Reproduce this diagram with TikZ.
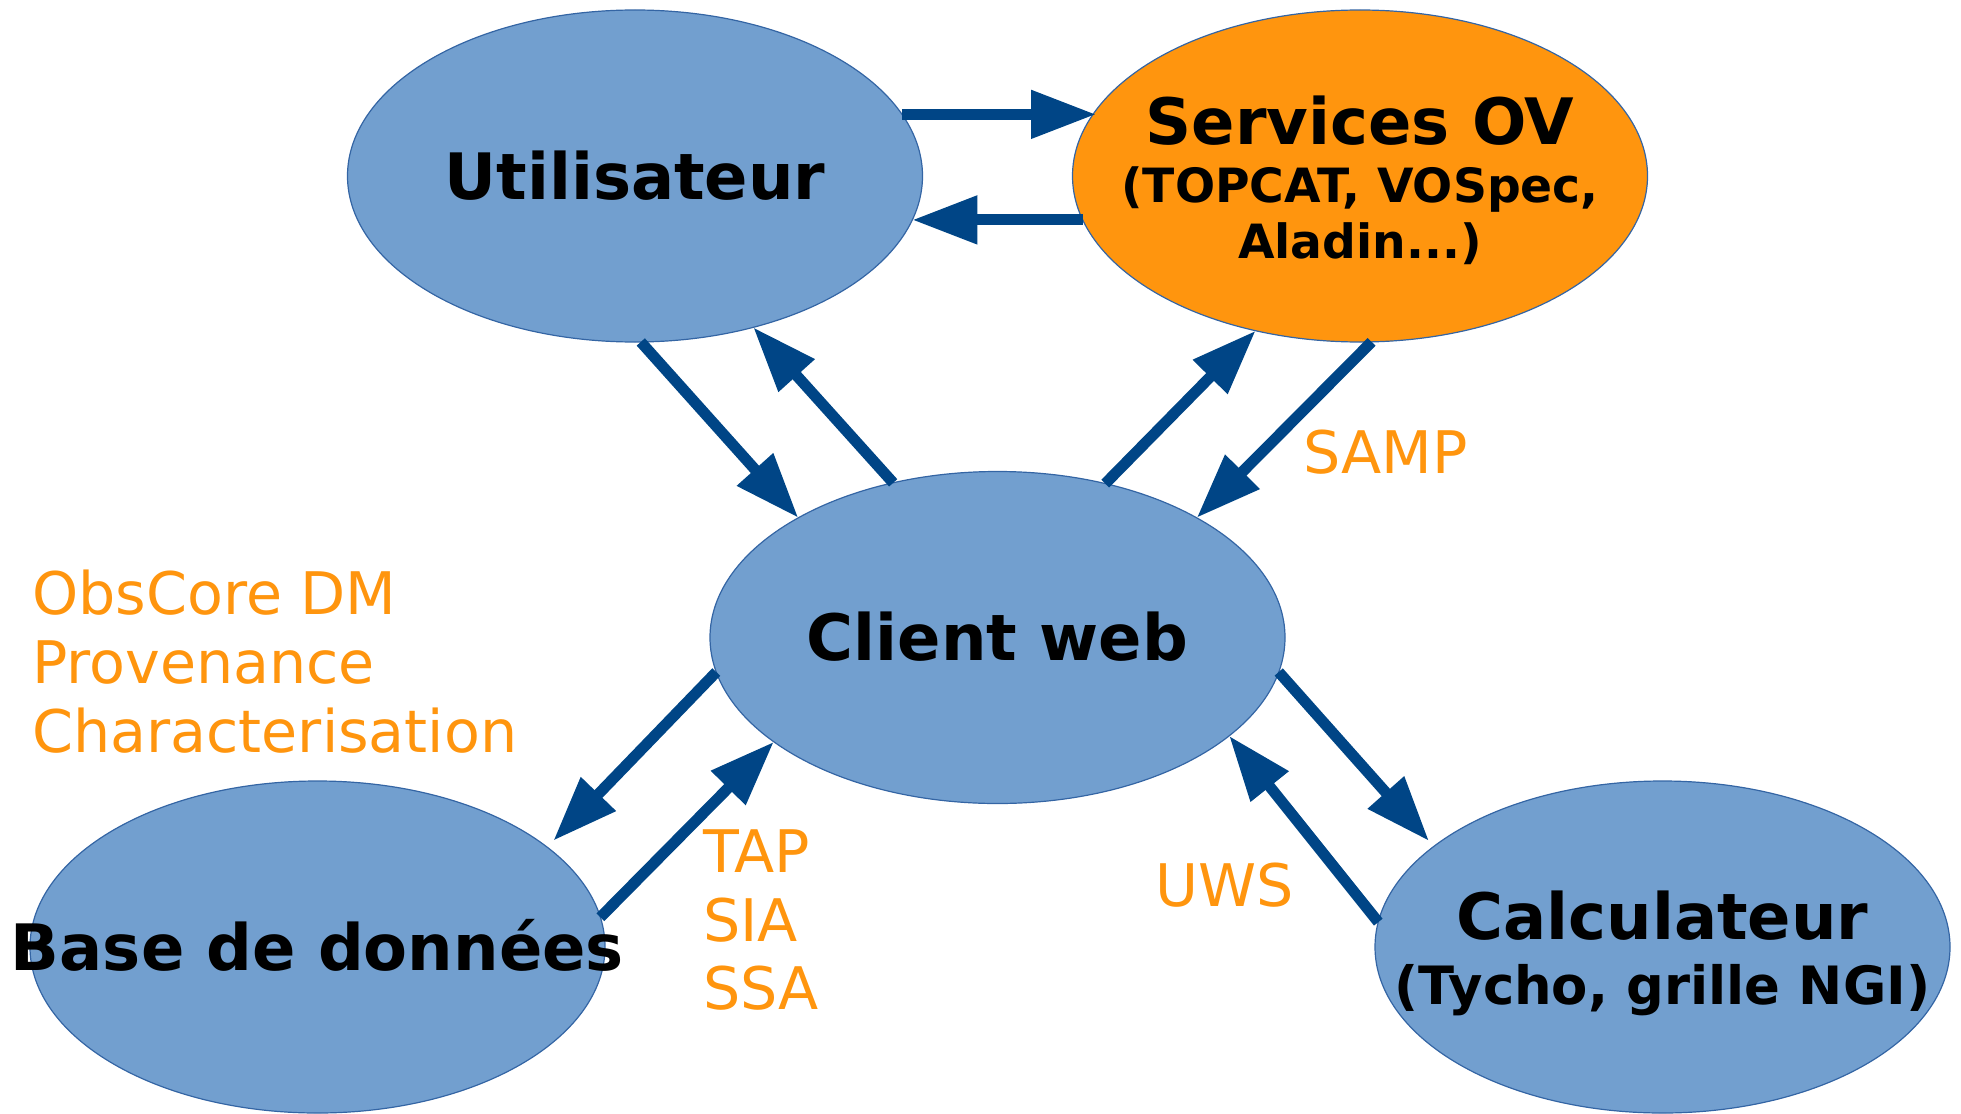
\documentclass[tikz,border=0pt]{standalone}
\usepackage{fontspec}
\setmainfont{DejaVu Sans}
\usetikzlibrary{arrows.meta,shapes.geometric}
\definecolor{nodeblue}{HTML}{729FCF}
\definecolor{nodeorange}{HTML}{FF950E}
\definecolor{edgeblue}{HTML}{3465A4}
\definecolor{arrowblue}{HTML}{004586}
\definecolor{lblorange}{HTML}{FF950E}
\begin{document}
\begin{tikzpicture}[x=1pt,y=-1pt,
  ell/.style={ellipse, draw=edgeblue, line width=1.2pt, fill=nodeblue,
    minimum width=575pt, minimum height=332pt, inner sep=0pt, outer sep=0pt},
  arr/.style={draw=arrowblue, line width=11pt,
    -{Triangle[length=65pt,width=46pt]}},
  bigtxt/.style={anchor=base, inner sep=0pt, text=black,
    font=\bfseries\fontsize{64}{70}\selectfont},
  subS/.style={anchor=base, inner sep=0pt, text=black,
    font=\bfseries\fontsize{47.2}{56}\selectfont},
  subC/.style={anchor=base, inner sep=0pt, text=black,
    font=\bfseries\fontsize{52.8}{60}\selectfont},
  lbl/.style={anchor=base west, inner sep=0pt, text=lblorange,
    font=\fontsize{58.7}{69}\selectfont}]
\useasboundingbox (0,0) rectangle (1961,1113);

% ellipses
\node[ell] (util) at (635,176) {};
\node[ell, fill=nodeorange] (serv) at (1360,176) {};
\node[ell] (client) at (997.5,637.5) {};
\node[ell] (base) at (317.5,947) {};
\node[ell] (calc) at (1662.5,947) {};

% connectors
\draw[arr] (util.13.2) -- (util.13.2 -| serv.166.8);
\draw[arr] (serv.189.4) -- (serv.189.4 -| util.-9.4);
\draw[arr] (util.-88) -- (client.149);
\draw[arr] (client.124.1) -- (util.-52.8);
\draw[arr] (client.55) -- (serv.-124);
\draw[arr] (serv.-86) -- (client.31.8);
\draw[arr] (client.187.6) -- ([shift={(235.8,-106.3)}]base.center);
\draw[arr] (base.6.5) -- (client.205.2);
\draw[arr] (client.-7.6) -- ([shift={(-233.5,-106)}]calc.center);
\draw[arr] (calc.175) -- (client.-23.6);

% node texts
\node[bigtxt] (utilT) at (635,199.5) {Utilisateur};
\node[bigtxt] (servT1) at (1360,144.3) {Services OV};
\node[subS] (servT2) at (1360,202) {(TOPCAT, VOSpec,};
\node[subS] (servT3) at (1360,258) {Aladin...)};
\node[bigtxt] (clientT) at (997.5,660.6) {Client web};
\node[bigtxt] (baseT) at (317.5,970.5) {Base de données};
\node[bigtxt] (calcT1) at (1662.5,939.3) {Calculateur};
\node[subC] (calcT2) at (1662.5,1004) {(Tycho, grille NGI)};

% protocol labels
\node[lbl] (lblsamp) at (1303,473) {SAMP};
\node[lbl] (lblobs) at (32,614) {ObsCore DM};
\node[lbl] (lblprov) at (32,683) {Provenance};
\node[lbl] (lblchar) at (32,752) {Characterisation};
\node[lbl] (lbltap) at (703,872) {TAP};
\node[lbl] (lblsia) at (703,941) {SIA};
\node[lbl] (lblssa) at (703,1009) {SSA};
\node[lbl] (lbluws) at (1155,906) {UWS};
\end{tikzpicture}
\end{document}
